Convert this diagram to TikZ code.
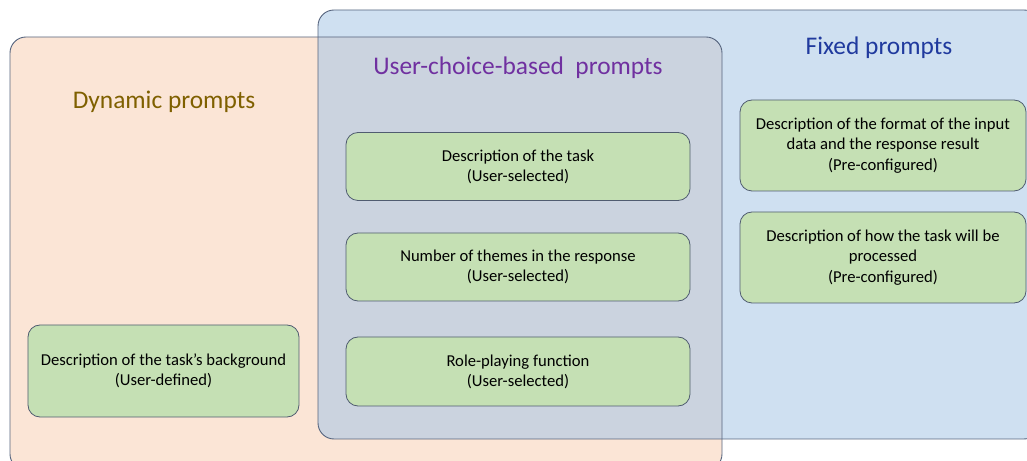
\documentclass[tikz,border=0pt]{standalone}
\usepackage{fontspec}
\setmainfont{Carlito}
\begin{document}
\begin{tikzpicture}[x=1bp,y=-1bp,
  edgecol/.style={draw=frame, line width=0.9bp},
  item/.style={draw=boxline, line width=0.8bp, fill=boxgreen, rounded corners=12bp,
    align=center, inner sep=0pt, font=\fontsize{16.7}{20.3}\selectfont, text=black},
  title/.style={font=\fontsize{25.5}{30}\selectfont, inner sep=0pt}]
\definecolor{peach}{RGB}{251,229,214}
\definecolor{lblue}{RGB}{207,224,241}
\definecolor{overlap}{RGB}{203,211,223}
\definecolor{boxgreen}{RGB}{197,224,180}
\definecolor{frame}{RGB}{86,100,126}
\definecolor{boxline}{RGB}{80,92,112}
\definecolor{dyncol}{RGB}{127,96,0}
\definecolor{usercol}{RGB}{112,48,160}
\definecolor{fixcol}{RGB}{32,58,158}
\useasboundingbox (0,0) rectangle (1027,461);
% containers
\fill[peach, rounded corners=16bp] (10,37) rectangle (722,470);
\fill[lblue, rounded corners=16bp] (318,10) rectangle (1040,439);
\begin{scope}
  \clip[rounded corners=16bp] (10,37) rectangle (722,470);
  \fill[overlap, rounded corners=16bp] (318,10) rectangle (1040,439);
\end{scope}
\draw[edgecol, rounded corners=16bp] (10,37) rectangle (722,470);
\draw[edgecol, rounded corners=16bp] (318,10) rectangle (1040,439);
% titles
\node[title, text=dyncol] (tdyn) at (164,101.5) {Dynamic prompts};
\node[title, text=usercol] (tuser) at (518,67.5) {User-choice-based\ \ prompts};
\node[title, text=fixcol] (tfix) at (879,47.5) {Fixed prompts};
% boxes
\node[item, minimum width=344bp, minimum height=68bp] (task) at (518,166.5) {Description of the task\\(User-selected)};
\node[item, minimum width=344bp, minimum height=68bp] (themes) at (518,267) {Number of themes in the response\\(User-selected)};
\node[item, minimum width=344bp, minimum height=69bp] (role) at (518,371.5) {Role-playing function\\(User-selected)};
\node[item, minimum width=271bp, minimum height=92bp] (bg) at (163.5,371) {Description of the task’s background\\(User-defined)};
\node[item, minimum width=286bp, minimum height=91bp] (format) at (883,145.5) {Description of the format of the input\\data and the response result\\(Pre-configured)};
\node[item, minimum width=286bp, minimum height=91bp] (how) at (883,257.5) {Description of how the task will be\\processed\\(Pre-configured)};
\end{tikzpicture}
\end{document}
